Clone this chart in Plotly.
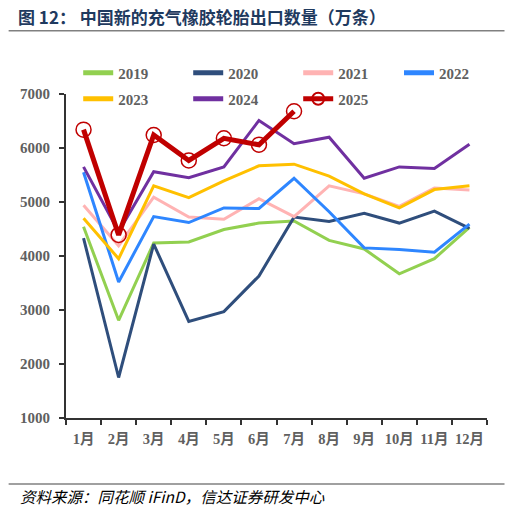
import plotly.graph_objects as go

# monthly export volume, 10k tyres
months = ["1月", "2月", "3月", "4月", "5月", "6月", "7月", "8月", "9月", "10月", "11月", "12月"]

y2019 = [4540, 2810, 4240, 4260, 4490, 4610, 4650, 4290, 4130, 3670, 3950, 4530]
y2020 = [4330, 1750, 4220, 2790, 2970, 3630, 4720, 4640, 4790, 4610, 4830, 4510]
y2021 = [4940, 4190, 5090, 4720, 4680, 5060, 4730, 5300, 5150, 4920, 5260, 5220]
y2022 = [5550, 3520, 4730, 4620, 4890, 4880, 5440, 4820, 4150, 4120, 4070, 4590]
y2023 = [4700, 3950, 5300, 5080, 5390, 5670, 5700, 5480, 5150, 4890, 5230, 5300]
y2024 = [5650, 4450, 5560, 5450, 5650, 6510, 6080, 6200, 5440, 5650, 5620, 6070]
y2025 = [6340, 4390, 6240, 5770, 6180, 6060, 6680]

# (name, values, colour, legend box)
series = [
    ("2019", y2019, "#92D050", "legend"),
    ("2020", y2020, "#2F4E7C", "legend"),
    ("2021", y2021, "#FFB3B3", "legend"),
    ("2022", y2022, "#2E86FF", "legend3"),
    ("2023", y2023, "#FFC000", "legend2"),
    ("2024", y2024, "#7030A0", "legend2"),
]

fig = go.Figure()

for name, vals, color, leg in series:
    fig.add_trace(go.Scatter(
        x=months[:len(vals)], y=vals, name=name, mode="lines",
        line=dict(color=color, width=3), legend=leg,
    ))

fig.add_trace(go.Scatter(
    x=months[:len(y2025)], y=y2025, name="2025", mode="lines+markers",
    line=dict(color="#C00000", width=5), legend="legend2",
    marker=dict(symbol="circle-open", size=15, color="#C00000", line=dict(width=1.5)),
))

legend_font = dict(family="Liberation Serif", size=15, color="#606060", weight="bold")
tick_font = dict(family="Liberation Serif, Noto Sans CJK SC", size=14.5, color="#606060", weight="bold")

def legend_box(x, y):
    return dict(
        orientation="h", x=x, y=y, xanchor="left", yanchor="middle",
        entrywidth=65, entrywidthmode="pixels", font=legend_font,
        bgcolor="rgba(0,0,0,0)", itemsizing="constant",
    )

# the page puts the figure 8px in from the top-left corner
fig.update_layout(
    width=513, height=503,
    margin=dict(l=56, r=24, t=86, b=93),
    paper_bgcolor="white", plot_bgcolor="white",
    title=dict(
        text="图 12： 中国新的充气橡胶轮胎出口数量（万条）",
        x=10 / 513, xanchor="left", y=1 - 10 / 503, yanchor="middle",
        font=dict(family="Noto Sans CJK SC", size=17, color="#1F3A5F", weight="bold"),
    ),
    legend=legend_box(0.029, 1.0648),
    legend2=legend_box(0.029, 0.9846),
    legend3=legend_box(0.791, 1.0648),
    showlegend=True,
)

fig.update_xaxes(
    type="category", range=[-0.5, 11.5], tickangle=0,
    showline=True, linecolor="#333333", linewidth=2,
    ticks="outside", tickson="boundaries", ticklen=5, tickcolor="#333333", tickwidth=2,
    showgrid=False, zeroline=False, ticklabelstandoff=7,
    tickfont=tick_font,
)
fig.update_yaxes(
    range=[1000, 7000], dtick=1000,
    showline=True, linecolor="#333333", linewidth=2,
    ticks="outside", ticklen=5, tickcolor="#333333", tickwidth=2,
    showgrid=False, zeroline=False, ticklabelstandoff=6,
    tickfont=dict(tick_font, size=15),
)

# header and footer rules
rule_x0 = (-3 - 56) / 433
rule_x1 = (507 - 56) / 433
fig.add_shape(type="line", xref="paper", yref="paper", x0=rule_x0, x1=rule_x1,
              y0=(410 - 22.7) / 324, y1=(410 - 22.7) / 324,
              line=dict(color="#808080", width=1.5))
fig.add_shape(type="line", xref="paper", yref="paper", x0=rule_x0, x1=rule_x1,
              y0=(410 - 476) / 324, y1=(410 - 476) / 324,
              line=dict(color="#808080", width=1.5))

fig.add_annotation(
    text="<i>资料来源：同花顺 iFinD，信达证券研发中心</i>",
    xref="paper", yref="paper", x=(7 - 56) / 433, y=(410 - 488) / 324,
    xanchor="left", yanchor="middle", showarrow=False,
    font=dict(family="Noto Sans CJK SC", size=15.5, color="#000000"),
)

fig.write_html("out.html")
